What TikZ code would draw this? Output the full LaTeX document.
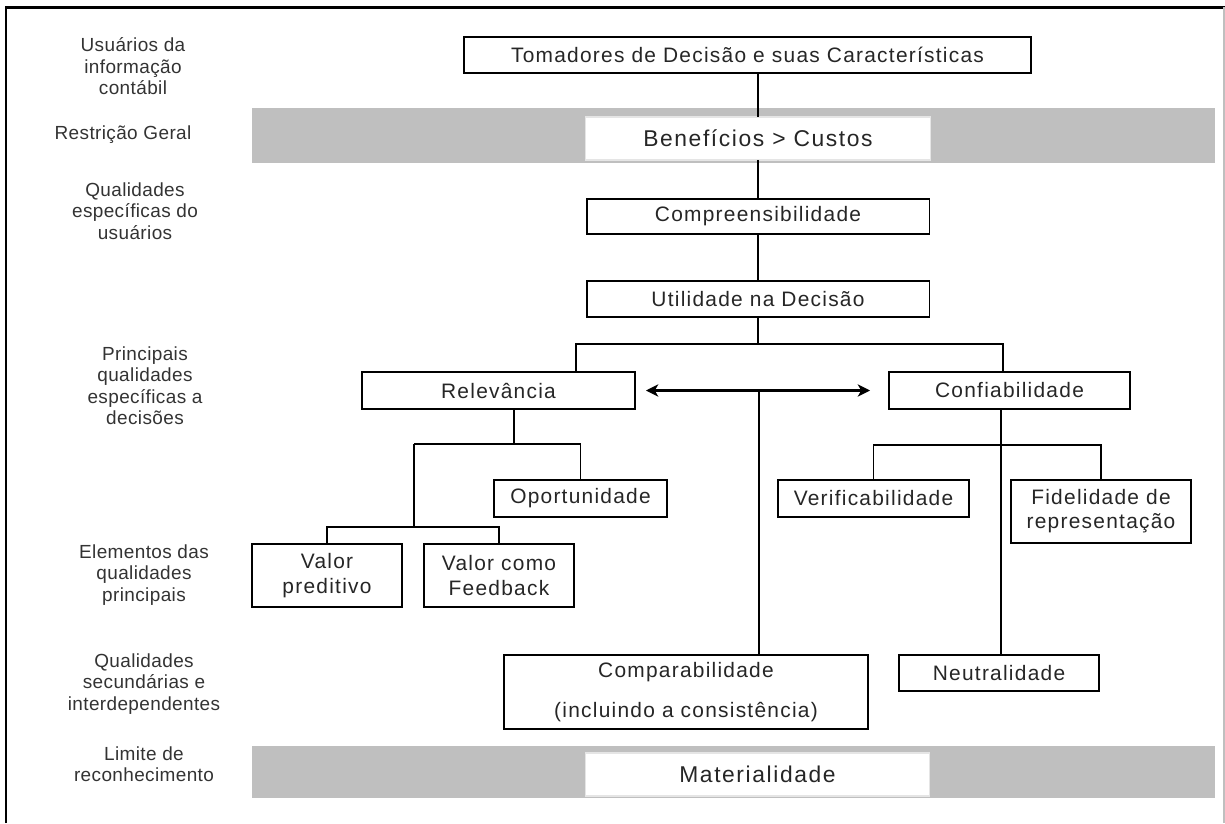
\documentclass[tikz,border=0pt]{standalone}
\usepackage{fontspec}
\setmainfont{Liberation Sans}
\newfontfamily\boxfont[LetterSpace=6]{Liberation Sans}
\newfontfamily\bigfont[LetterSpace=7]{Liberation Sans}
\newfontfamily\lblfont[LetterSpace=2]{Liberation Sans}
\usepackage{tikz}
\usetikzlibrary{arrows.meta, positioning, calc}
\usepackage{xcolor}
\definecolor{bandgray}{gray}{0.75}
\tikzstyle{box} = [rectangle, draw=black, line width=1.1pt, fill=white, text=black!85, align=center, inner sep=0pt, outer sep=0pt, font=\boxfont\fontsize{11.9}{14.7}\selectfont]
\tikzstyle{limitbox} = [rectangle, draw=black!10, line width=0.6pt, fill=white, text=black!85, inner sep=0pt, outer sep=0pt, minimum width=6.9cm, minimum height=0.86cm, font=\bigfont\fontsize{13}{15}\selectfont]
\tikzstyle{band} = [fill=bandgray]
\tikzstyle{lbl} = [align=center, text=black!80, inner sep=0pt, font=\lblfont\fontsize{10.8}{12.2}\selectfont]
\tikzstyle{link} = [line width=1.1pt]
\tikzstyle{biarrow} = [line width=1.2pt, {Stealth[length=7pt,width=7pt,inset=2pt]}-{Stealth[length=7pt,width=7pt,inset=2pt]}]

\begin{document}
\begin{tikzpicture}[x=0.02cm, y=-0.02cm]
        \useasboundingbox (0,0) rectangle (1225,823);

        % Frame
        \draw[line width=1.7pt] (6,823) -- (6,7) -- (1225,7);
        \draw[black!25, line width=0.6pt] (1224,7) -- (1224,823);

        % Bands
        \fill[band] (252,108) rectangle (1215,163);
        \fill[band] (252,746) rectangle (1215,798);

        % Row labels
        \node (lab1) [lbl] at (133,66.5) {Usuários da\\informação\\contábil};
        \node (lab2) [lbl] at (123,135) {Restrição Geral};
        \node (lab3) [lbl] at (135,211) {Qualidades\\específicas do\\usuários};
        \node (lab4) [lbl] at (145,385.5) {Principais\\qualidades\\específicas a\\decisões};
        \node (lab5) [lbl] at (144,575) {Elementos das\\qualidades\\principais};
        \node (lab6) [lbl] at (144,684) {Qualidades\\secundárias e\\interdependentes};
        \node (lab7) [lbl] at (144,764) {Limite de\\reconhecimento};

        % Main column
        \node (top) [box, minimum width=11.34cm, minimum height=0.72cm] at (747.5,55) {Tomadores de Decisão e suas Características};
        \node (bencus) [limitbox] at (758,138.5) {Benefícios > Custos};
        \node (compr) [box, minimum width=6.86cm, minimum height=0.7cm, below=0.78cm of bencus] {Compreensibilidade};
        \node (util) [box, minimum width=6.86cm, minimum height=0.72cm, below=0.94cm of compr] {Utilidade na Decisão};

        % Main qualities
        \node (relev) [box, minimum width=5.46cm, minimum height=0.74cm] at (498.5,390.5) {Relevância};
        \node (confi) [box, minimum width=4.82cm, minimum height=0.74cm] at (1009.5,390.5) {Confiabilidade};

        % Elements
        \node (oport) [box, minimum width=3.46cm, minimum height=0.74cm] at (580.5,498.5) {Oportunidade};
        \node (verif) [box, minimum width=3.82cm, minimum height=0.74cm] at (873.5,498.5) {Verificabilidade};
        \node (fidel) [box, minimum width=3.6cm, minimum height=1.26cm, font=\boxfont\fontsize{11.9}{13.6}\selectfont] at (1101,511.5) {Fidelidade de\\representação};
        \node (valpred) [box, minimum width=3cm, minimum height=1.26cm] at (327,575.5) {Valor\\preditivo};
        \node (valfeed) [box, minimum width=3cm, minimum height=1.26cm] at (499,575.5) {Valor como\\Feedback};

        % Secondary qualities
        \node (compar) [box, minimum width=7.28cm, minimum height=1.48cm, font=\boxfont\fontsize{11.9}{22.7}\selectfont] at (686,692) {Comparabilidade\\(incluindo a consistência)};
        \node (neutr) [box, minimum width=4cm, minimum height=0.72cm] at (999,673) {Neutralidade};

        % Threshold
        \node (mater) [limitbox] at (757.5,774.5) {Materialidade};

        % Junctions
        \coordinate (jU) at (758,344);
        \coordinate (dL) at (576,372);
        \coordinate (dR) at (1003,372);
        \coordinate (jR) at (514,444);
        \coordinate (jRL) at (414,444);
        \coordinate (jV) at (414,527);
        \coordinate (jC) at (1001,445);
        \coordinate (jA) at (759,391);

        % Connections main column
        \draw[link] (top.south -| bencus.north) -- (bencus.north);
        \draw[link] (bencus.south) -- (compr.north);
        \draw[link] (compr.south) -- (util.north);
        \draw[link] (util.south) -- (jU);
        \draw[link] (dL) |- (jU) -| (dR);

        % Relevance / reliability
        \draw[biarrow] ([xshift=0.22cm]relev.east) -- ([xshift=-0.38cm]confi.west);
        \draw[link] (jA) -- (jA |- compar.north);

        % Connections Relevancia
        \draw[link] (relev.south -| jR) -- (jR);
        \draw[link] (jRL) -- (jR) -| (oport.north);
        \draw[link] (jRL) -- (jV);
        \draw[link] (valpred.north) |- (jV) -| (valfeed.north);

        % Connections Confiabilidade
        \draw[link] (confi.south -| jC) -- (jC |- neutr.north);
        \draw[link] (verif.north) |- (jC) -| (fidel.north);
    \end{tikzpicture}
\end{document}
